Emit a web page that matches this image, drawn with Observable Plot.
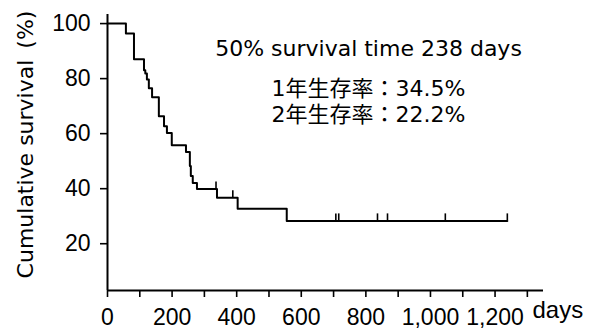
<!DOCTYPE html>
<html>
<head>
<meta charset="utf-8">
<script src="https://cdn.jsdelivr.net/npm/d3@7"></script>
<script src="https://cdn.jsdelivr.net/npm/@observablehq/plot@0.6"></script>
<style>
  html, body { margin: 0; padding: 0; background: #fff; }
</style>
</head>
<body>
<div id="chart"></div>
<script>
// Kaplan–Meier step curve: day at which survival changes, and the survival (%) from that day on
const stepDays = [0, 57, 82, 113, 117, 122, 128, 138, 159, 175, 184, 199, 243, 255, 258, 264, 277, 339, 403, 555, 1238];
const stepSurvival = [100, 96.4, 87.0, 83.0, 81.9, 79.7, 76.5, 73.2, 66.3, 62.7, 60.2, 55.8, 53.3, 48.2, 44.6, 42.1, 39.9, 36.7, 32.7, 28.3, 28.3];
// censored observations (days)
const censorDays = [336, 388, 707, 716, 836, 867, 1046, 1238];
// axis ticks
const yTicks = [20, 40, 60, 80, 100];
const xTicks = [0, 100, 200, 300, 400, 500, 600, 700, 800, 900, 1000, 1100, 1200, 1300];
const xLabelled = [0, 200, 400, 600, 800, 1000, 1200];
// texts
const yLabel = "Cumulative survival\u2002(%)";
const xUnit = "days";
const noteLines = ["50% survival time 238 days", "1年生存率：34.5%", "2年生存率：22.2%"];
const noteOffsets = [26, 66, 92];

const curve = stepDays.map((d, i) => ({day: d, s: stepSurvival[i]}));
const bis = d3.bisector(d => d.day).right;
const censors = censorDays.map(d => ({day: d, s: curve[Math.max(0, bis(curve, d) - 1)].s}));

const fmt = d3.format(",");
const font = "'DejaVu Sans', 'Noto Sans CJK JP', sans-serif";
const tickFont = "'Liberation Sans', Arial, sans-serif";

const noteMarks = noteLines.map((t, i) =>
  Plot.text([t], {frameAnchor: "top", dx: 43, dy: noteOffsets[i], fontSize: 22, fill: "#000"}));

const chart = Plot.plot({
  width: 595,
  height: 334,
  marginLeft: 107,
  marginRight: 52,
  marginTop: 14,
  marginBottom: 44,
  style: {fontFamily: font, fontSize: "22px", background: "#fff", color: "#000", overflow: "visible"},
  x: {domain: [0, 1350], label: null},
  y: {domain: [3, 103.3], label: null},
  marks: [
    Plot.axisY({ticks: yTicks, tickSize: 7, tickPadding: 10, strokeWidth: 1.6, label: null,
      fontFamily: tickFont, fontSize: 23}),
    Plot.axisX({ticks: xTicks, tickSize: 7, tickPadding: 11, strokeWidth: 1.6, label: null,
      fontFamily: tickFont, fontSize: 23,
      tickFormat: d => xLabelled.includes(d) ? fmt(d) : ""}),
    Plot.ruleX([0], {stroke: "#000", strokeWidth: 2}),
    Plot.ruleY([3], {stroke: "#000", strokeWidth: 2}),
    Plot.line(curve, {x: "day", y: "s", curve: "step-after", stroke: "#000", strokeWidth: 2}),
    Plot.ruleX(censors, {x: "day", y1: "s", y2: "s", insetTop: -7, stroke: "#000", strokeWidth: 1.6}),
    Plot.text([yLabel], {frameAnchor: "left", textAnchor: "middle", rotate: -90, dx: -82, dy: -8, fontSize: 22, fill: "#000"}),
    Plot.text([xUnit], {frameAnchor: "bottom-right", textAnchor: "start", dx: -11, dy: 27, fontFamily: tickFont, fontSize: 24, fill: "#000"}),
    ...noteMarks
  ]
});
document.getElementById("chart").appendChild(chart);
</script>
</body>
</html>
